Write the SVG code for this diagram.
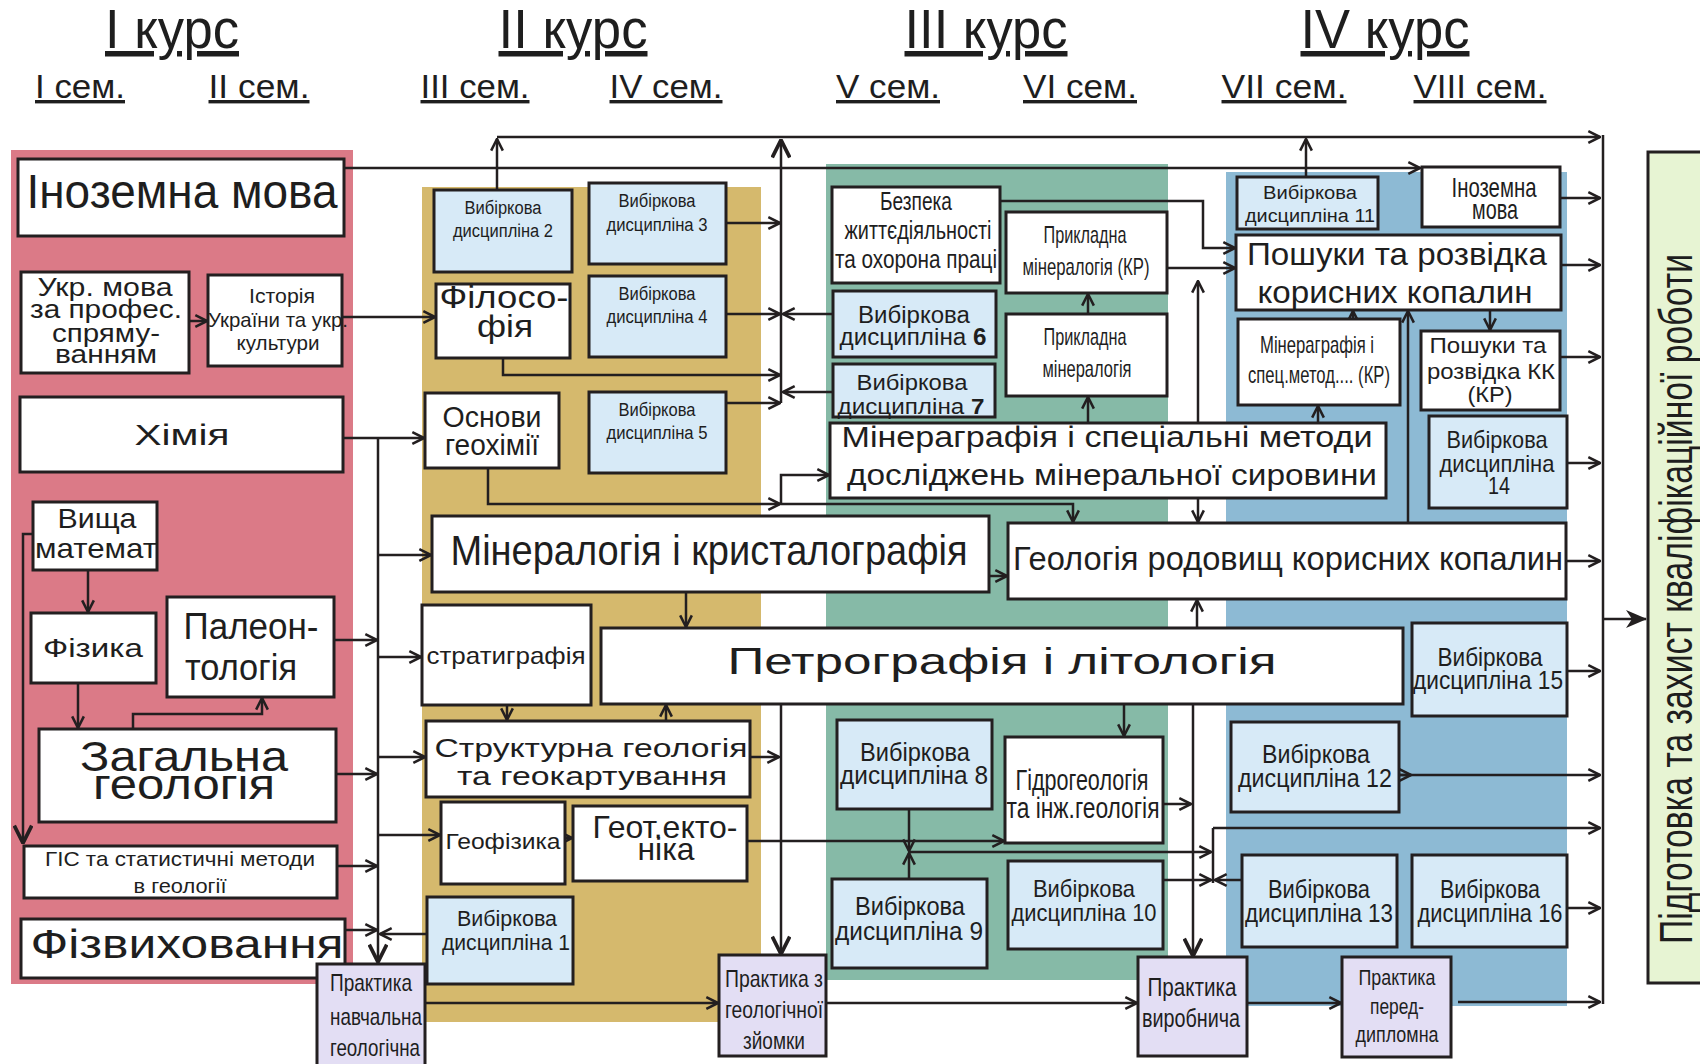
<svg xmlns="http://www.w3.org/2000/svg" width="1700" height="1064" viewBox="0 0 1700 1064">
<defs>
<style>
.bg{stroke:none}
.bx{fill:#fff;stroke:#231f20;stroke-width:3}
.lb{fill:#d7eaf7;stroke:#231f20;stroke-width:3}
.pr{fill:#e3def4;stroke:#231f20;stroke-width:3}
.t{font-family:"Liberation Sans",Arial,sans-serif;fill:#1e1e1e;text-anchor:middle}
.c{fill:none;stroke:#231f20;stroke-width:2.5}
.ca{fill:none;stroke:#231f20;stroke-width:2.5;marker-end:url(#a)}
.h{font-family:"Liberation Sans",Arial,sans-serif;fill:#1e1e1e;text-anchor:middle;text-decoration:underline}
</style>
<marker id="a" markerUnits="userSpaceOnUse" markerWidth="14" markerHeight="14" refX="11" refY="6" orient="auto" viewBox="0 0 12 12"><path d="M1,1 L11,6 L1,11" fill="none" stroke="#231f20" stroke-width="2.2"/></marker>
<marker id="a2" markerUnits="userSpaceOnUse" markerWidth="14" markerHeight="14" refX="11" refY="6" orient="auto-start-reverse" viewBox="0 0 12 12"><path d="M1,1 L11,6 L1,11" fill="none" stroke="#231f20" stroke-width="2.2"/></marker>
<marker id="ab" markerUnits="userSpaceOnUse" markerWidth="20" markerHeight="20" refX="15" refY="8" orient="auto" viewBox="0 0 16 16"><path d="M1,1 L15,8 L1,15" fill="none" stroke="#231f20" stroke-width="3"/></marker>
<marker id="af" markerUnits="userSpaceOnUse" markerWidth="22" markerHeight="22" refX="20" refY="10" orient="auto" viewBox="0 0 22 20"><path d="M0,1 L21,10 L0,19 L6,10 Z" fill="#231f20"/></marker>
</defs>
<rect width="1700" height="1064" fill="#fff"/>

<g id="backgrounds">
<rect class="bg" x="11" y="150" width="342" height="834" fill="#db7a87"/>
<rect class="bg" x="422" y="187" width="339" height="835" fill="#d5b96d"/>
<rect class="bg" x="826" y="164" width="342" height="816" fill="#86baa7"/>
<rect class="bg" x="1226" y="172" width="341" height="834" fill="#8dbad4"/>
</g>

<g id="headers">
<text class="h" x="172" y="48" font-size="55" textLength="134" lengthAdjust="spacingAndGlyphs">I курс</text>
<text class="h" x="573" y="48" font-size="55" textLength="149" lengthAdjust="spacingAndGlyphs">II курс</text>
<text class="h" x="986" y="48" font-size="55" textLength="163" lengthAdjust="spacingAndGlyphs">III курс</text>
<text class="h" x="1385" y="48" font-size="55" textLength="169" lengthAdjust="spacingAndGlyphs">IV курс</text>
<text class="h" x="80" y="98" font-size="34" textLength="90" lengthAdjust="spacingAndGlyphs">I сем.</text>
<text class="h" x="259" y="98" font-size="34" textLength="101" lengthAdjust="spacingAndGlyphs">II сем.</text>
<text class="h" x="475" y="98" font-size="34" textLength="109" lengthAdjust="spacingAndGlyphs">III сем.</text>
<text class="h" x="666" y="98" font-size="34" textLength="113" lengthAdjust="spacingAndGlyphs">IV сем.</text>
<text class="h" x="888" y="98" font-size="34" textLength="104" lengthAdjust="spacingAndGlyphs">V сем.</text>
<text class="h" x="1080" y="98" font-size="34" textLength="114" lengthAdjust="spacingAndGlyphs">VI сем.</text>
<text class="h" x="1284" y="98" font-size="34" textLength="125" lengthAdjust="spacingAndGlyphs">VII сем.</text>
<text class="h" x="1480" y="98" font-size="34" textLength="133" lengthAdjust="spacingAndGlyphs">VIII сем.</text>
</g>

<g id="connectors">
<path class="ca" d="M497,190 V139"/>
<path class="ca" d="M497,137 H1600"/>
<path class="c" d="M781,403 V140" stroke-width="3.5" marker-end="url(#ab)"/>
<path class="ca" d="M1306,177 V139"/>
<path class="ca" d="M344,168 H1420"/>
<path class="ca" d="M189,321 H207"/>
<path class="ca" d="M342,317 H435"/>
<path class="ca" d="M343,438 H424"/>
<path class="c" d="M378,438 V962" stroke-width="3" marker-end="url(#ab)"/>
<path class="ca" d="M378,555 H431"/>
<path class="ca" d="M334,640 H377"/>
<path class="ca" d="M378,657 H421"/>
<path class="ca" d="M336,774 H377"/>
<path class="ca" d="M378,757 H425"/>
<path class="ca" d="M378,835 H440"/>
<path class="ca" d="M337,866 H377"/>
<path class="ca" d="M345,930 H377"/>
<path class="ca" d="M427,934 H380"/>
<path class="c" d="M33,534 H23 V843" stroke-width="3" marker-end="url(#ab)"/>
<path class="ca" d="M88,570 V612"/>
<path class="ca" d="M78,683 V728"/>
<path class="ca" d="M133,729 V714 H262 V698"/>
<path class="ca" d="M726,223 H780"/>
<path class="ca" d="M726,314 H780"/>
<path class="ca" d="M833,314 H783"/>
<path class="ca" d="M503,358 V375 H780"/>
<path class="ca" d="M833,392 H783"/>
<path class="ca" d="M726,403 H780"/>
<path class="ca" d="M488,468 V504 H780"/>
<path class="ca" d="M781,504 H1073 V522"/>
<path class="ca" d="M781,504 V475 H829"/>
<path class="ca" d="M686,592 V627"/>
<path class="ca" d="M989,576 H1007"/>
<path class="ca" d="M507,705 V720"/>
<path class="ca" d="M666,721 V705"/>
<path class="ca" d="M750,757 H779"/>
<path class="c" d="M781,704 V954" stroke-width="3" marker-end="url(#ab)"/>
<path class="ca" d="M565,838 H572"/>
<path class="ca" d="M747,841 H1004"/>
<path class="ca" d="M1000,201 H1203 V248 H1235"/>
<path class="ca" d="M1167,268 H1235"/>
<path class="ca" d="M1088,314 V294"/>
<path class="ca" d="M1088,423 V397"/>
<path class="c" d="M1198,522 V281" marker-start="url(#a2)" marker-end="url(#a2)"/>
<path class="ca" d="M1197,628 V600"/>
<path class="ca" d="M1124,704 V736"/>
<path class="c" d="M1193,704 V956" stroke-width="3" marker-end="url(#ab)"/>
<path class="ca" d="M1163,804 H1191"/>
<path class="ca" d="M909,809 V851"/>
<path class="ca" d="M909,879 V853"/>
<path class="ca" d="M909,852 H1211"/>
<path class="ca" d="M1163,880 H1211"/>
<path class="ca" d="M1242,880 H1215"/>
<path class="c" d="M1213,828 V883"/>
<path class="ca" d="M1213,828 H1600"/>
<path class="ca" d="M425,1003 H718"/>
<path class="ca" d="M826,1003 H1137"/>
<path class="ca" d="M1247,1003 H1341"/>
<path class="ca" d="M1458,1002 H1600"/>
<path class="ca" d="M1560,198 H1600"/>
<path class="ca" d="M1561,265 H1600"/>
<path class="ca" d="M1560,357 H1600"/>
<path class="ca" d="M1567,463 H1600"/>
<path class="ca" d="M1566,561 H1600"/>
<path class="ca" d="M1567,671 H1600"/>
<path class="ca" d="M1399,775 H1600"/>
<path class="ca" d="M1399,775 H1411"/>
<path class="ca" d="M1567,908 H1600"/>
<path class="ca" d="M1490,310 V330"/>
<path class="ca" d="M1353,319 V311"/>
<path class="ca" d="M1318,423 V406"/>
<path class="ca" d="M1408,523 V311"/>
<path class="c" d="M1603,135 V1004" stroke-width="5"/>
<path class="c" d="M1603,619 H1646" stroke-width="5" marker-end="url(#af)"/>
</g>

<g id="n-inoz1"><rect class="bx" x="18" y="159" width="326" height="77"/>
<text class="t" x="182" y="208" font-size="48" textLength="311" lengthAdjust="spacingAndGlyphs">Іноземна мова</text></g>
<g id="n-ukr"><rect class="bx" x="21" y="272" width="168" height="101"/>
<text class="t" x="105" y="296" font-size="26" textLength="135" lengthAdjust="spacingAndGlyphs">Укр. мова</text>
<text class="t" x="106" y="318" font-size="26" textLength="152" lengthAdjust="spacingAndGlyphs">за профес.</text>
<text class="t" x="106" y="342" font-size="26" textLength="108" lengthAdjust="spacingAndGlyphs">спряму-</text>
<text class="t" x="106" y="363" font-size="26" textLength="102" lengthAdjust="spacingAndGlyphs">ванням</text></g>
<g id="n-ist"><rect class="bx" x="208" y="275" width="134" height="91"/>
<text class="t" x="282" y="303" font-size="21" textLength="66" lengthAdjust="spacingAndGlyphs">Історія</text>
<text class="t" x="278" y="327" font-size="21" textLength="140" lengthAdjust="spacingAndGlyphs">України та укр.</text>
<text class="t" x="278" y="350" font-size="21" textLength="83" lengthAdjust="spacingAndGlyphs">культури</text></g>
<g id="n-khim"><rect class="bx" x="20" y="397" width="323" height="75"/>
<text class="t" x="182" y="445" font-size="30" textLength="95" lengthAdjust="spacingAndGlyphs">Хімія</text></g>
<g id="n-vyshcha"><rect class="bx" x="33" y="502" width="124" height="68"/>
<text class="t" x="97" y="528" font-size="28" textLength="79" lengthAdjust="spacingAndGlyphs">Вища</text>
<text class="t" x="96" y="558" font-size="28" textLength="122" lengthAdjust="spacingAndGlyphs">математ</text></g>
<g id="n-fiz"><rect class="bx" x="31" y="613" width="125" height="70"/>
<text class="t" x="93" y="657" font-size="26" textLength="100" lengthAdjust="spacingAndGlyphs">Фізика</text></g>
<g id="n-paleon"><rect class="bx" x="167" y="597" width="167" height="100"/>
<text class="t" x="251" y="639" font-size="37" textLength="135" lengthAdjust="spacingAndGlyphs">Палеон-</text>
<text class="t" x="241" y="680" font-size="37" textLength="112" lengthAdjust="spacingAndGlyphs">тологія</text></g>
<g id="n-zag"><rect class="bx" x="39" y="729" width="297" height="93"/>
<text class="t" x="184" y="771" font-size="42" textLength="208" lengthAdjust="spacingAndGlyphs">Загальна</text>
<text class="t" x="184" y="799" font-size="42" textLength="182" lengthAdjust="spacingAndGlyphs">геологія</text></g>
<g id="n-gis"><rect class="bx" x="24" y="846" width="313" height="52"/>
<text class="t" x="180" y="866" font-size="21" textLength="270" lengthAdjust="spacingAndGlyphs">ГІС та статистичні методи</text>
<text class="t" x="180" y="893" font-size="21" textLength="93" lengthAdjust="spacingAndGlyphs">в геології</text></g>
<g id="n-fizv"><rect class="bx" x="21" y="919" width="324" height="59"/>
<text class="t" x="187" y="958" font-size="40" textLength="313" lengthAdjust="spacingAndGlyphs">Фізвиховання</text></g>
<g id="n-prak1"><rect class="pr" x="317" y="964" width="108" height="102"/>
<text class="t" x="371" y="991" font-size="24" textLength="82" lengthAdjust="spacingAndGlyphs">Практика</text>
<text class="t" x="376" y="1025" font-size="24" textLength="92" lengthAdjust="spacingAndGlyphs">навчальна</text>
<text class="t" x="375" y="1056" font-size="24" textLength="90" lengthAdjust="spacingAndGlyphs">геологічна</text></g>

<g id="n-v2"><rect class="lb" x="434" y="190" width="138" height="82"/>
<text class="t" x="503" y="214" font-size="18" textLength="77" lengthAdjust="spacingAndGlyphs">Вибіркова</text>
<text class="t" x="503" y="237" font-size="18" textLength="100" lengthAdjust="spacingAndGlyphs">дисципліна 2</text></g>
<g id="n-v3"><rect class="lb" x="589" y="183" width="137" height="81"/>
<text class="t" x="657" y="207" font-size="18" textLength="77" lengthAdjust="spacingAndGlyphs">Вибіркова</text>
<text class="t" x="657" y="231" font-size="18" textLength="101" lengthAdjust="spacingAndGlyphs">дисципліна 3</text></g>
<g id="n-filos"><rect class="bx" x="436" y="284" width="134" height="74"/>
<text class="t" x="504" y="308" font-size="32" textLength="129" lengthAdjust="spacingAndGlyphs">Філосо-</text>
<text class="t" x="505" y="337" font-size="32" textLength="56" lengthAdjust="spacingAndGlyphs">фія</text></g>
<g id="n-v4"><rect class="lb" x="589" y="276" width="137" height="81"/>
<text class="t" x="657" y="300" font-size="18" textLength="77" lengthAdjust="spacingAndGlyphs">Вибіркова</text>
<text class="t" x="657" y="323" font-size="18" textLength="101" lengthAdjust="spacingAndGlyphs">дисципліна 4</text></g>
<g id="n-osnovy"><rect class="bx" x="425" y="393" width="134" height="75"/>
<text class="t" x="492" y="427" font-size="30" textLength="99" lengthAdjust="spacingAndGlyphs">Основи</text>
<text class="t" x="492" y="455" font-size="30" textLength="94" lengthAdjust="spacingAndGlyphs">геохімії</text></g>
<g id="n-v5"><rect class="lb" x="589" y="392" width="137" height="81"/>
<text class="t" x="657" y="416" font-size="18" textLength="77" lengthAdjust="spacingAndGlyphs">Вибіркова</text>
<text class="t" x="657" y="439" font-size="18" textLength="101" lengthAdjust="spacingAndGlyphs">дисципліна 5</text></g>
<g id="n-miner"><rect class="bx" x="432" y="516" width="557" height="76"/>
<text class="t" x="709" y="565" font-size="42" textLength="517" lengthAdjust="spacingAndGlyphs">Мінералогія і кристалографія</text></g>
<g id="n-strat"><rect class="bx" x="422" y="605" width="169" height="100"/>
<text class="t" x="506" y="664" font-size="24" textLength="159" lengthAdjust="spacingAndGlyphs">стратиграфія</text></g>
<g id="n-petro"><rect class="bx" x="601" y="628" width="802" height="76"/>
<text class="t" x="1002" y="674" font-size="36" textLength="549" lengthAdjust="spacingAndGlyphs">Петрографія і  літологія</text></g>
<g id="n-strukt"><rect class="bx" x="426" y="721" width="324" height="76"/>
<text class="t" x="591" y="757" font-size="25" textLength="313" lengthAdjust="spacingAndGlyphs">Структурна геологія</text>
<text class="t" x="592" y="785" font-size="25" textLength="270" lengthAdjust="spacingAndGlyphs">та геокартування</text></g>
<g id="n-geof"><rect class="bx" x="441" y="802" width="124" height="82"/>
<text class="t" x="503" y="849" font-size="22" textLength="115" lengthAdjust="spacingAndGlyphs">Геофізика</text></g>
<g id="n-geotek"><rect class="bx" x="573" y="806" width="174" height="75"/>
<text class="t" x="665" y="838" font-size="32" textLength="145" lengthAdjust="spacingAndGlyphs">Геот.екто-</text>
<text class="t" x="666" y="860" font-size="32" textLength="57" lengthAdjust="spacingAndGlyphs">ніка</text></g>
<g id="n-v1"><rect class="lb" x="427" y="897" width="146" height="87"/>
<text class="t" x="507" y="926" font-size="22" textLength="100" lengthAdjust="spacingAndGlyphs">Вибіркова</text>
<text class="t" x="506" y="950" font-size="22" textLength="128" lengthAdjust="spacingAndGlyphs">дисципліна 1</text></g>
<g id="n-prak2"><rect class="pr" x="719" y="955" width="107" height="101"/>
<text class="t" x="774" y="987" font-size="24" textLength="98" lengthAdjust="spacingAndGlyphs">Практика з</text>
<text class="t" x="774" y="1018" font-size="24" textLength="98" lengthAdjust="spacingAndGlyphs">геологічної</text>
<text class="t" x="774" y="1049" font-size="24" textLength="62" lengthAdjust="spacingAndGlyphs">зйомки</text></g>

<g id="n-bezp"><rect class="bx" x="832" y="187" width="168" height="96"/>
<text class="t" x="916" y="210" font-size="25" textLength="72" lengthAdjust="spacingAndGlyphs">Безпека</text>
<text class="t" x="918" y="239" font-size="25" textLength="147" lengthAdjust="spacingAndGlyphs">життєдіяльності</text>
<text class="t" x="916" y="268" font-size="25" textLength="162" lengthAdjust="spacingAndGlyphs">та  охорона праці</text></g>
<g id="n-prkr"><rect class="bx" x="1006" y="212" width="161" height="81"/>
<text class="t" x="1085" y="243" font-size="24" textLength="83" lengthAdjust="spacingAndGlyphs">Прикладна</text>
<text class="t" x="1086" y="275" font-size="24" textLength="127" lengthAdjust="spacingAndGlyphs">мінералогія (КР)</text></g>
<g id="n-v6"><rect class="lb" x="833" y="291" width="163" height="66"/>
<text class="t" x="914" y="323" font-size="23" textLength="112" lengthAdjust="spacingAndGlyphs">Вибіркова</text>
<text class="t" x="913" y="345" font-size="23" textLength="147" lengthAdjust="spacingAndGlyphs">дисципліна <tspan font-weight="bold">6</tspan></text></g>
<g id="n-prm"><rect class="bx" x="1006" y="314" width="161" height="82"/>
<text class="t" x="1085" y="345" font-size="24" textLength="83" lengthAdjust="spacingAndGlyphs">Прикладна</text>
<text class="t" x="1087" y="377" font-size="24" textLength="89" lengthAdjust="spacingAndGlyphs">мінералогія</text></g>
<g id="n-v7"><rect class="lb" x="833" y="364" width="162" height="53"/>
<text class="t" x="912" y="390" font-size="22" textLength="111" lengthAdjust="spacingAndGlyphs">Вибіркова</text>
<text class="t" x="911" y="414" font-size="22" textLength="147" lengthAdjust="spacingAndGlyphs">дисципліна <tspan font-weight="bold">7</tspan></text></g>
<g id="n-mingr"><rect class="bx" x="830" y="423" width="556" height="75"/>
<text class="t" x="1107" y="447" font-size="30" textLength="531" lengthAdjust="spacingAndGlyphs">Мінераграфія і  спеціальні методи</text>
<text class="t" x="1112" y="485" font-size="30" textLength="530" lengthAdjust="spacingAndGlyphs">досліджень мінеральної сировини</text></g>
<g id="n-geolrod"><rect class="bx" x="1008" y="523" width="558" height="76"/>
<text class="t" x="1288" y="570" font-size="34" textLength="550" lengthAdjust="spacingAndGlyphs">Геологія родовищ  корисних копалин</text></g>
<g id="n-v8"><rect class="lb" x="837" y="720" width="155" height="89"/>
<text class="t" x="915" y="761" font-size="26" textLength="110" lengthAdjust="spacingAndGlyphs">Вибіркова</text>
<text class="t" x="914" y="784" font-size="26" textLength="148" lengthAdjust="spacingAndGlyphs">дисципліна 8</text></g>
<g id="n-gidro"><rect class="bx" x="1005" y="737" width="158" height="106"/>
<text class="t" x="1082" y="790" font-size="30" textLength="133" lengthAdjust="spacingAndGlyphs">Гідрогеологія</text>
<text class="t" x="1083" y="818" font-size="30" textLength="153" lengthAdjust="spacingAndGlyphs">та інж.геологія</text></g>
<g id="n-v9"><rect class="lb" x="832" y="879" width="155" height="89"/>
<text class="t" x="910" y="915" font-size="26" textLength="110" lengthAdjust="spacingAndGlyphs">Вибіркова</text>
<text class="t" x="909" y="940" font-size="26" textLength="148" lengthAdjust="spacingAndGlyphs">дисципліна 9</text></g>
<g id="n-v10"><rect class="lb" x="1008" y="861" width="155" height="88"/>
<text class="t" x="1084" y="897" font-size="24" textLength="102" lengthAdjust="spacingAndGlyphs">Вибіркова</text>
<text class="t" x="1084" y="921" font-size="24" textLength="145" lengthAdjust="spacingAndGlyphs">дисципліна 10</text></g>
<g id="n-prak3"><rect class="pr" x="1138" y="957" width="109" height="99"/>
<text class="t" x="1192" y="996" font-size="26" textLength="89" lengthAdjust="spacingAndGlyphs">Практика</text>
<text class="t" x="1191" y="1027" font-size="26" textLength="98" lengthAdjust="spacingAndGlyphs">виробнича</text></g>

<g id="n-v11"><rect class="lb" x="1237" y="177" width="141" height="52"/>
<text class="t" x="1310" y="199" font-size="18" textLength="94" lengthAdjust="spacingAndGlyphs">Вибіркова</text>
<text class="t" x="1310" y="222" font-size="18" textLength="130" lengthAdjust="spacingAndGlyphs">дисципліна 11</text></g>
<g id="n-inoz2"><rect class="bx" x="1422" y="167" width="138" height="60"/>
<text class="t" x="1494" y="197" font-size="28" textLength="85" lengthAdjust="spacingAndGlyphs">Іноземна</text>
<text class="t" x="1495" y="219" font-size="28" textLength="46" lengthAdjust="spacingAndGlyphs">мова</text></g>
<g id="n-poshuky"><rect class="bx" x="1236" y="235" width="325" height="75"/>
<text class="t" x="1397" y="265" font-size="32" textLength="300" lengthAdjust="spacingAndGlyphs">Пошуки та розвідка</text>
<text class="t" x="1395" y="303" font-size="32" textLength="275" lengthAdjust="spacingAndGlyphs">корисних копалин</text></g>
<g id="n-mgkr"><rect class="bx" x="1238" y="319" width="162" height="86"/>
<text class="t" x="1317" y="353" font-size="24" textLength="114" lengthAdjust="spacingAndGlyphs">Мінераграфія і</text>
<text class="t" x="1319" y="383" font-size="24" textLength="142" lengthAdjust="spacingAndGlyphs">спец.метод.... (КР)</text></g>
<g id="n-poshkk"><rect class="bx" x="1421" y="331" width="139" height="79"/>
<text class="t" x="1488" y="353" font-size="22" textLength="117" lengthAdjust="spacingAndGlyphs">Пошуки та</text>
<text class="t" x="1491" y="379" font-size="22" textLength="128" lengthAdjust="spacingAndGlyphs">розвідка КК</text>
<text class="t" x="1490" y="402" font-size="22" textLength="45" lengthAdjust="spacingAndGlyphs">(КР)</text></g>
<g id="n-v14"><rect class="lb" x="1429" y="416" width="138" height="92"/>
<text class="t" x="1497" y="448" font-size="24" textLength="101" lengthAdjust="spacingAndGlyphs">Вибіркова</text>
<text class="t" x="1497" y="472" font-size="24" textLength="115" lengthAdjust="spacingAndGlyphs">дисципліна</text>
<text class="t" x="1499" y="494" font-size="24" textLength="22" lengthAdjust="spacingAndGlyphs">14</text></g>
<g id="n-v15"><rect class="lb" x="1412" y="623" width="155" height="93"/>
<text class="t" x="1490" y="666" font-size="26" textLength="105" lengthAdjust="spacingAndGlyphs">Вибіркова</text>
<text class="t" x="1488" y="689" font-size="26" textLength="150" lengthAdjust="spacingAndGlyphs">дисципліна 15</text></g>
<g id="n-v12"><rect class="lb" x="1231" y="722" width="168" height="90"/>
<text class="t" x="1316" y="763" font-size="26" textLength="108" lengthAdjust="spacingAndGlyphs">Вибіркова</text>
<text class="t" x="1315" y="787" font-size="26" textLength="154" lengthAdjust="spacingAndGlyphs">дисципліна 12</text></g>
<g id="n-v13"><rect class="lb" x="1242" y="855" width="155" height="92"/>
<text class="t" x="1319" y="898" font-size="26" textLength="102" lengthAdjust="spacingAndGlyphs">Вибіркова</text>
<text class="t" x="1319" y="922" font-size="26" textLength="148" lengthAdjust="spacingAndGlyphs">дисципліна 13</text></g>
<g id="n-v16"><rect class="lb" x="1412" y="855" width="155" height="92"/>
<text class="t" x="1490" y="898" font-size="26" textLength="100" lengthAdjust="spacingAndGlyphs">Вибіркова</text>
<text class="t" x="1490" y="922" font-size="26" textLength="145" lengthAdjust="spacingAndGlyphs">дисципліна 16</text></g>
<g id="n-prak4"><rect class="pr" x="1342" y="957" width="109" height="100"/>
<text class="t" x="1397" y="985" font-size="22" textLength="77" lengthAdjust="spacingAndGlyphs">Практика</text>
<text class="t" x="1397" y="1014" font-size="22" textLength="54" lengthAdjust="spacingAndGlyphs">перед-</text>
<text class="t" x="1397" y="1042" font-size="22" textLength="83" lengthAdjust="spacingAndGlyphs">дипломна</text></g>

<g id="n-final"><rect x="1648" y="152" width="70" height="831" fill="#e7f4d3" stroke="#231f20" stroke-width="3"/>
<text class="t" transform="translate(1692,599) rotate(-90)" font-size="46" textLength="690" lengthAdjust="spacingAndGlyphs">Підготовка та захист кваліфікаційної роботи</text></g>
</svg>
